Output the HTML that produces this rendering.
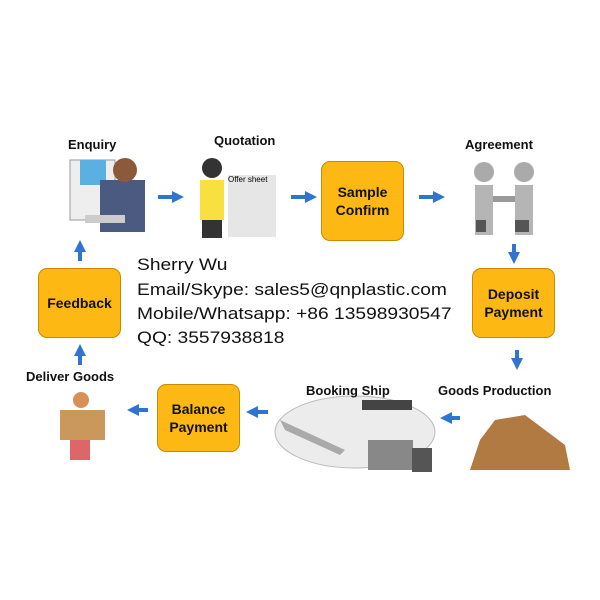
<!DOCTYPE html><html><head><style>
body{margin:0;width:600px;height:600px;background:#fff;position:relative;overflow:hidden;font-family:"Liberation Sans",sans-serif}
.b{position:absolute;background:#fdb813;border:1.5px solid #c78a00;border-radius:9px;box-sizing:border-box;display:flex;align-items:center;justify-content:center;text-align:center;font-weight:bold;font-size:14px;line-height:18px;color:#111}
.l{position:absolute;font-weight:bold;font-size:13px;color:#111;white-space:nowrap}
.t{position:absolute;left:137px;font-size:17px;color:#111;white-space:nowrap;transform:scaleX(1.13);transform-origin:0 0}
svg{position:absolute;left:0;top:0}
</style></head><body>
<svg width="600" height="600">
<defs><marker id="a" markerWidth="3" markerHeight="3" refX="1.5" refY="1.5" orient="auto"><path d="M0,0L3,1.5L0,3z" fill="#2f74d0"/></marker></defs>
<g stroke="#2f74d0" stroke-width="4" marker-end="url(#a)">
<line x1="158" y1="197" x2="178" y2="197"/><line x1="291" y1="197" x2="311" y2="197"/><line x1="419" y1="197" x2="439" y2="197"/>
<line x1="514" y1="244" x2="514" y2="258"/><line x1="517" y1="350" x2="517" y2="364"/>
<line x1="460" y1="418" x2="446" y2="418"/><line x1="268" y1="412" x2="252" y2="412"/><line x1="148" y1="410" x2="133" y2="410"/>
<line x1="80" y1="365" x2="80" y2="350"/><line x1="80" y1="261" x2="80" y2="246"/>
</g>
<!-- enquiry -->
<rect x="70" y="160" width="45" height="60" fill="#eee" stroke="#999"/><rect x="80" y="160" width="26" height="25" fill="#5ab0e0"/>
<rect x="100" y="180" width="45" height="52" fill="#4a5a80"/><circle cx="125" cy="170" r="12" fill="#8a5a3a"/><rect x="85" y="215" width="40" height="8" fill="#ccc"/>
<!-- quotation -->
<rect x="228" y="175" width="48" height="62" fill="#e6e6e6"/><text x="228" y="182" font-size="8" font-family="Liberation Sans">Offer sheet</text>
<circle cx="212" cy="168" r="10" fill="#333"/><rect x="200" y="180" width="24" height="40" fill="#f8e040"/><rect x="202" y="220" width="20" height="18" fill="#333"/>
<!-- agreement -->
<circle cx="484" cy="172" r="10" fill="#aaa"/><circle cx="524" cy="172" r="10" fill="#aaa"/>
<rect x="475" y="185" width="18" height="50" fill="#b5b5b5"/><rect x="515" y="185" width="18" height="50" fill="#b5b5b5"/><rect x="493" y="196" width="22" height="6" fill="#999"/>
<rect x="476" y="220" width="10" height="12" fill="#555"/><rect x="515" y="220" width="14" height="12" fill="#555"/>
<!-- deliver -->
<circle cx="81" cy="400" r="8" fill="#d8905a"/><rect x="60" y="410" width="45" height="30" fill="#c9985a"/><rect x="70" y="440" width="20" height="20" fill="#d66"/>
<!-- ship -->
<ellipse cx="355" cy="432" rx="80" ry="36" fill="#ececec" stroke="#bbb"/><path d="M280,420L345,450L340,455L285,430z" fill="#aaa"/>
<rect x="362" y="400" width="50" height="10" fill="#444"/><rect x="368" y="440" width="45" height="30" fill="#888"/><rect x="412" y="448" width="20" height="24" fill="#555"/>
<!-- boxes -->
<path d="M470,470L570,470L565,445L545,430L525,415L495,420L480,440z" fill="#b07a42"/>
</svg>
<div class="l" style="left:68px;top:137px">Enquiry</div>
<div class="l" style="left:214px;top:133px">Quotation</div>
<div class="l" style="left:465px;top:137px">Agreement</div>
<div class="l" style="left:26px;top:369px">Deliver Goods</div>
<div class="l" style="left:306px;top:383px">Booking Ship</div>
<div class="l" style="left:438px;top:383px">Goods Production</div>
<div class="b" style="left:321px;top:161px;width:83px;height:80px">Sample<br>Confirm</div>
<div class="b" style="left:38px;top:268px;width:83px;height:70px">Feedback</div>
<div class="b" style="left:472px;top:268px;width:83px;height:70px">Deposit<br>Payment</div>
<div class="b" style="left:157px;top:384px;width:83px;height:68px">Balance<br>Payment</div>
<div class="t" style="top:255px">Sherry Wu</div>
<div class="t" style="top:280px">Email/Skype: sales5@qnplastic.com</div>
<div class="t" style="top:304px">Mobile/Whatsapp: +86 13598930547</div>
<div class="t" style="top:328px">QQ: 3557938818</div>
</body></html>
